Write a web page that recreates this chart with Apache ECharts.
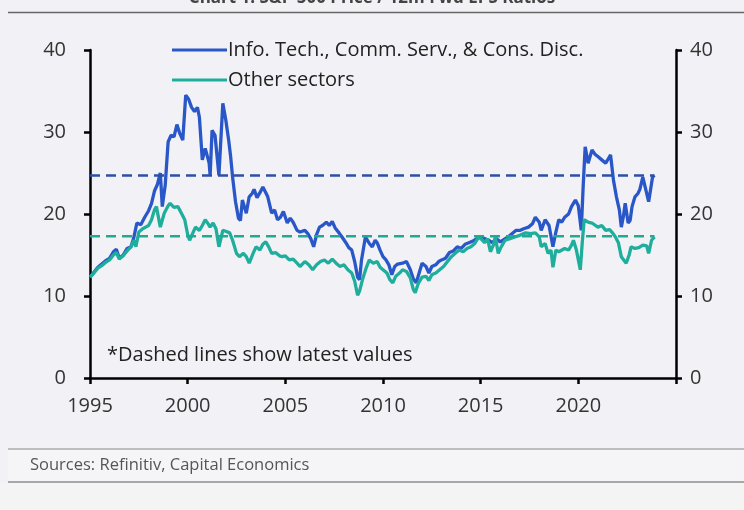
<!DOCTYPE html>
<html>
<head>
<meta charset="utf-8">
<script src="https://cdn.jsdelivr.net/npm/echarts@6/dist/echarts.min.js"></script>
<style>
html,body{margin:0;padding:0;background:#f2f2f6;}
#chart{width:744px;height:510px;}
</style>
</head>
<body>
<div id="chart"></div>
<script>
// ---- Data (year, P/E ratio) ----
const seriesNames = ['Info. Tech., Comm. Serv., & Cons. Disc.', 'Other sectors'];
const yTicks = [0, 10, 20, 30, 40];
const xTicks = [1995, 2000, 2005, 2010, 2015, 2020];

const techData = [
[1995.0,12.3],[1995.2,12.9],[1995.4,13.5],[1995.6,13.9],[1995.8,14.3],[1996.0,14.6],[1996.2,15.4],[1996.35,15.7],
[1996.5,14.6],[1996.7,15.0],[1996.9,15.8],[1997.1,16.0],[1997.25,17.2],[1997.4,18.9],[1997.6,18.7],[1997.8,19.6],
[1998.0,20.4],[1998.15,21.3],[1998.3,22.8],[1998.45,23.6],[1998.6,25.0],[1998.7,20.9],[1998.85,23.5],[1999.0,28.8],
[1999.15,29.6],[1999.3,29.4],[1999.45,30.9],[1999.6,29.8],[1999.75,29.0],[1999.9,34.5],[2000.05,34.0],[2000.2,33.0],
[2000.35,32.5],[2000.5,33.0],[2000.6,31.8],[2000.75,26.6],[2000.9,28.0],[2001.0,28.2],[2001.1,26.2],[2001.15,24.7],
[2001.25,30.2],[2001.4,29.6],[2001.5,29.8],[2001.6,24.7],[2001.8,33.5],[2001.95,31.5],[2002.1,29.0],[2002.2,27.0],
[2002.3,24.5],[2002.45,21.5],[2002.6,19.5],[2002.7,19.2],[2002.8,21.7],[2003.0,20.1],[2003.15,22.1],[2003.3,22.5],
[2003.4,23.0],[2003.55,22.0],[2003.7,22.6],[2003.85,23.3],[2004.0,22.6],[2004.1,22.1],[2004.3,20.1],[2004.45,20.5],
[2004.6,19.3],[2004.75,19.6],[2004.9,20.3],[2005.1,18.9],[2005.25,19.5],[2005.4,19.0],[2005.6,18.0],[2005.75,17.8],
[2006.0,18.0],[2006.15,17.6],[2006.3,17.0],[2006.45,16.0],[2006.6,17.5],[2006.75,18.4],[2006.9,18.6],[2007.1,19.0],
[2007.25,18.6],[2007.4,19.1],[2007.55,18.3],[2007.75,17.7],[2007.9,17.2],[2008.1,16.5],[2008.25,15.9],[2008.4,15.6],
[2008.55,14.2],[2008.7,12.3],[2008.8,12.0],[2008.9,14.4],[2009.1,17.2],[2009.3,16.4],[2009.45,16.0],[2009.6,16.8],
[2009.7,16.5],[2009.85,15.6],[2010.0,14.8],[2010.15,14.4],[2010.3,13.8],[2010.45,12.6],[2010.6,13.6],[2010.75,13.9],
[2011.0,14.0],[2011.2,14.2],[2011.4,13.2],[2011.55,12.1],[2011.7,11.6],[2011.85,12.8],[2012.0,14.0],[2012.2,13.6],
[2012.35,12.8],[2012.5,13.6],[2012.7,13.8],[2012.85,14.2],[2013.0,14.4],[2013.2,14.6],[2013.4,15.3],[2013.6,15.5],
[2013.8,16.0],[2014.0,15.8],[2014.2,16.3],[2014.4,16.5],[2014.6,16.7],[2014.8,17.0],[2015.0,17.2],[2015.2,17.0],
[2015.4,16.8],[2015.6,16.5],[2015.8,17.0],[2016.0,16.6],[2016.2,16.9],[2016.4,17.2],[2016.6,17.6],[2016.8,18.0],
[2017.0,18.0],[2017.2,18.2],[2017.45,18.4],[2017.65,18.8],[2017.8,19.6],[2018.0,19.0],[2018.1,18.0],[2018.3,19.3],
[2018.5,18.6],[2018.7,16.0],[2018.85,17.8],[2019.0,19.3],[2019.15,19.0],[2019.3,19.6],[2019.5,20.0],[2019.65,20.9],
[2019.85,21.7],[2020.0,21.0],[2020.15,18.0],[2020.25,23.5],[2020.35,28.2],[2020.5,26.2],[2020.7,27.8],[2020.85,27.3],
[2021.0,27.0],[2021.2,26.6],[2021.4,26.2],[2021.55,26.8],[2021.65,27.2],[2021.8,24.1],[2021.95,22.1],[2022.1,20.5],
[2022.2,18.4],[2022.3,19.6],[2022.4,21.3],[2022.55,18.9],[2022.65,19.2],[2022.75,20.9],[2022.9,22.1],[2023.05,22.5],
[2023.15,23.0],[2023.3,24.5],[2023.45,23.0],[2023.6,21.5],[2023.7,21.3],[2023.8,24.5],[2023.9,24.7]
];

const otherData = [
[1995.0,12.3],[1995.2,12.8],[1995.4,13.4],[1995.6,13.7],[1995.8,14.1],[1996.0,14.4],[1996.2,15.0],[1996.35,15.3],
[1996.5,14.5],[1996.7,14.9],[1996.9,15.5],[1997.1,16.0],[1997.25,16.8],[1997.35,16.0],[1997.5,17.8],[1997.7,18.2],
[1997.85,18.4],[1998.0,18.6],[1998.15,19.3],[1998.3,20.5],[1998.4,20.9],[1998.6,18.4],[1998.8,20.1],[1999.0,21.0],
[1999.1,21.3],[1999.3,20.8],[1999.5,20.9],[1999.7,20.0],[1999.85,19.3],[2000.0,17.5],[2000.1,16.8],[2000.25,17.6],
[2000.4,18.4],[2000.6,18.0],[2000.75,18.6],[2000.9,19.3],[2001.05,18.8],[2001.15,18.4],[2001.3,18.9],[2001.45,18.2],
[2001.6,16.0],[2001.8,18.0],[2001.95,17.9],[2002.15,17.7],[2002.3,16.8],[2002.5,15.2],[2002.65,14.8],[2002.85,15.2],
[2003.0,14.8],[2003.15,14.0],[2003.35,15.2],[2003.5,16.0],[2003.7,15.6],[2003.85,16.3],[2004.0,16.6],[2004.15,16.0],
[2004.3,15.2],[2004.5,15.3],[2004.7,14.9],[2004.85,14.8],[2005.0,14.9],[2005.2,14.4],[2005.4,14.5],[2005.6,14.0],
[2005.75,13.6],[2006.0,14.2],[2006.2,13.8],[2006.4,13.2],[2006.6,13.8],[2006.8,14.2],[2007.0,14.4],[2007.2,14.0],
[2007.4,14.5],[2007.6,14.0],[2007.8,13.6],[2008.0,13.8],[2008.2,13.2],[2008.4,12.8],[2008.55,11.8],[2008.7,10.1],
[2008.8,10.6],[2008.95,12.0],[2009.15,13.5],[2009.3,14.4],[2009.5,14.0],[2009.7,14.2],[2009.85,13.5],[2010.0,13.2],
[2010.2,12.8],[2010.35,12.0],[2010.5,11.6],[2010.65,12.4],[2010.85,12.8],[2011.0,13.2],[2011.2,13.0],[2011.4,12.2],
[2011.55,10.8],[2011.65,10.4],[2011.8,11.5],[2012.0,12.3],[2012.2,12.4],[2012.35,11.9],[2012.5,12.6],[2012.7,12.8],
[2012.9,13.2],[2013.1,13.6],[2013.3,14.2],[2013.5,14.8],[2013.7,15.2],[2013.9,15.6],[2014.1,15.4],[2014.3,15.8],
[2014.5,16.0],[2014.7,16.4],[2014.9,17.2],[2015.05,16.9],[2015.2,16.5],[2015.35,17.0],[2015.5,15.4],[2015.65,16.2],
[2015.75,17.2],[2015.9,15.2],[2016.05,16.0],[2016.25,16.8],[2016.5,17.0],[2016.75,17.2],[2017.0,17.4],[2017.3,17.7],
[2017.55,17.6],[2017.8,17.7],[2018.0,17.2],[2018.1,16.0],[2018.3,16.4],[2018.45,15.2],[2018.6,15.6],[2018.7,13.5],
[2018.85,15.6],[2019.0,15.4],[2019.1,15.2],[2019.3,15.8],[2019.5,15.6],[2019.65,16.2],[2019.75,16.8],[2019.9,15.6],
[2020.0,15.8],[2020.1,13.2],[2020.2,16.5],[2020.3,19.3],[2020.5,19.0],[2020.7,18.9],[2021.0,18.4],[2021.2,18.6],
[2021.4,18.0],[2021.6,18.1],[2021.75,17.7],[2021.9,17.2],[2022.05,16.5],[2022.2,14.8],[2022.45,14.0],[2022.6,15.0],
[2022.7,16.0],[2022.9,15.8],[2023.1,15.9],[2023.3,16.2],[2023.5,16.1],[2023.6,15.2],[2023.75,16.8],[2023.9,17.2]
];

const latestTech = 24.7;
const latestOther = 17.3;
const noteText = '*Dashed lines show latest values';
const sourceText = 'Sources: Refinitiv, Capital Economics';
const titleText = 'Chart 1: S&P 500 Price / 12m Fwd EPS Ratios';

const startYear = techData[0][0];
const endYear = techData[techData.length - 1][0];
const techLatestLine = [[startYear, latestTech], [endYear, latestTech]];
const otherLatestLine = [[startYear, latestOther], [endYear, latestOther]];

const BLUE = '#2a57c8';
const TEAL = '#1fae9c';
const FONT = '"Open Sans", "Noto Sans", sans-serif';
const FS = 20;

const chart = echarts.init(document.getElementById('chart'), null, {renderer: 'canvas'});

const axisCommonY = {
  type: 'value', min: 0, max: 40, interval: 10,
  axisLine: {show: true, lineStyle: {color: '#000', width: 2.5}},
  axisTick: {show: true, length: 6, lineStyle: {color: '#000', width: 2.5}},
  splitLine: {show: false},
};

chart.setOption({
  backgroundColor: '#f2f2f6',
  animation: false,
  grid: {left: 90, right: 68, top: 50, bottom: 132, containLabel: false},
  legend: {
    orient: 'vertical', left: 167, top: 33,
    itemWidth: 55, itemHeight: 3, itemGap: 6,
    icon: 'rect',
    textStyle: {fontFamily: FONT, fontSize: FS, color: '#222', lineHeight: 24, padding: [0,0,0,-4]},
    data: seriesNames
  },
  xAxis: {
    type: 'value', min: 1995, max: 2025, interval: 5,
    axisLine: {show: true, onZero: false, lineStyle: {color: '#000', width: 2.5}},
    axisTick: {show: true, length: 6, lineStyle: {color: '#000', width: 2.5}},
    splitLine: {show: false},
    axisLabel: {
      fontFamily: FONT, fontSize: FS, color: '#333', margin: 18,
      formatter: v => (xTicks.indexOf(v) >= 0 ? String(v) : '')
    }
  },
  yAxis: [
    Object.assign({}, axisCommonY, {
      position: 'left',
      axisLabel: {fontFamily: FONT, fontSize: FS, color: '#333', margin: 24,
        formatter: v => (yTicks.indexOf(v) >= 0 ? String(v) : '')}
    }),
    Object.assign({}, axisCommonY, {
      position: 'right',
      axisLabel: {fontFamily: FONT, fontSize: FS, color: '#333', margin: 14,
        formatter: v => (yTicks.indexOf(v) >= 0 ? String(v) : '')}
    })
  ],
  series: [
    {name: seriesNames[0], type: 'line', data: techData, symbol: 'none', z: 2,
      lineStyle: {color: BLUE, width: 3.3}, itemStyle: {color: BLUE}},
    {name: seriesNames[1], type: 'line', data: otherData, symbol: 'none', z: 3,
      lineStyle: {color: TEAL, width: 3.3}, itemStyle: {color: TEAL}},
    {name: 'techLatest', type: 'line', data: techLatestLine, symbol: 'none', z: 4,
      lineStyle: {color: '#2d4fa8', width: 2.5, type: [10, 6]}},
    {name: 'otherLatest', type: 'line', data: otherLatestLine, symbol: 'none', z: 4,
      lineStyle: {color: '#22a994', width: 2.5, type: [10, 6]}}
  ],
  graphic: [
    {type: 'text', left: 'center', top: -10, z: 10,
      style: {text: titleText, fontFamily: FONT, fontSize: 17, fontWeight: 'bold', fill: '#444'}},
    {type: 'line', shape: {x1: 8, y1: 12.5, x2: 744, y2: 12.5}, style: {stroke: '#666', lineWidth: 1.5}},
    {type: 'text', left: 107, top: 345, z: 10,
      style: {text: noteText, fontFamily: FONT, fontSize: FS, fill: '#222'}},
    {type: 'rect', shape: {x: 8, y: 449, width: 736, height: 33}, style: {fill: '#f5f5f7'}, z: -1},
    {type: 'line', shape: {x1: 8, y1: 449, x2: 744, y2: 449}, style: {stroke: '#888', lineWidth: 1}},
    {type: 'line', shape: {x1: 8, y1: 482, x2: 744, y2: 482}, style: {stroke: '#a8a8ac', lineWidth: 2}},
    {type: 'rect', shape: {x: 0, y: 483, width: 744, height: 27}, style: {fill: '#f4f4f4'}, z: -1},
    {type: 'text', left: 30, top: 457, z: 10,
      style: {text: sourceText, fontFamily: FONT, fontSize: 16.5, fill: '#555'}}
  ]
});
</script>
</body>
</html>
